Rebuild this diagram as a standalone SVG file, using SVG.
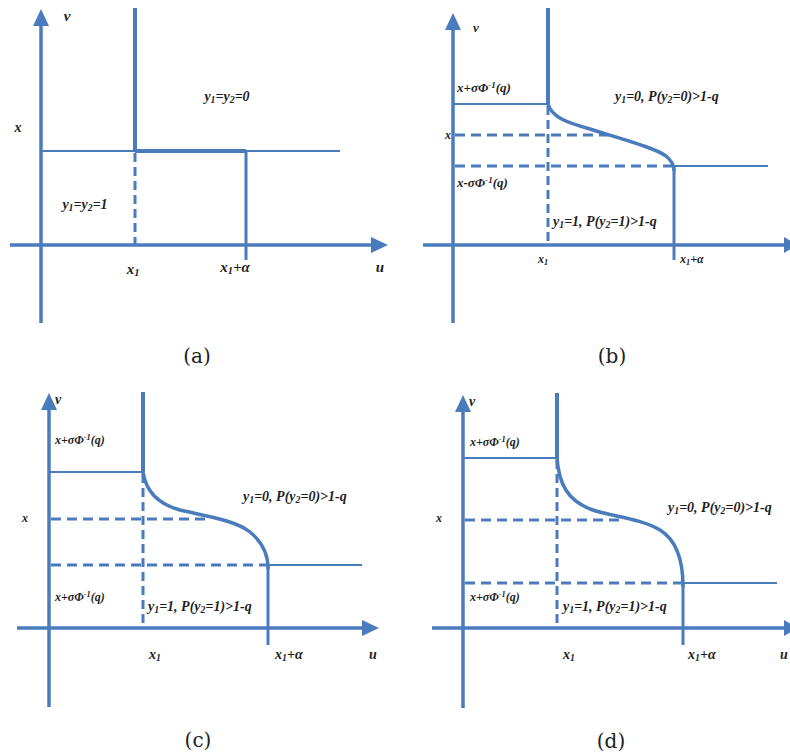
<svg xmlns="http://www.w3.org/2000/svg" width="790" height="756" viewBox="0 0 790 756">
<style>
.ax{stroke:#4a7bbd;stroke-width:3.5;fill:none}
.th{stroke:#4a7bbd;stroke-width:4;fill:none}
.tn{stroke:#4a7bbd;stroke-width:2.2;fill:none}
.md{stroke:#4a7bbd;stroke-width:3;fill:none}
.cv{stroke:#4a7bbd;stroke-width:3.5;fill:none;stroke-linecap:round}
.ds{stroke:#4a7bbd;stroke-width:3;fill:none;stroke-dasharray:10 6}
.dv{stroke:#4a7bbd;stroke-width:3;fill:none;stroke-dasharray:9 5}
.ar{fill:#4a7bbd}
.lb{font-family:"Liberation Serif",serif;font-style:italic;font-weight:bold;fill:#1e1e1e}
.L{font-size:15px}
.M{font-size:14px}
.S{font-size:12px}
.B{font-size:13px}
.s{font-size:70%}
.cap{font-family:"DejaVu Serif",serif;font-size:20px;fill:#222;text-anchor:middle}
.c{text-anchor:middle}
.e{text-anchor:end}
</style>
<rect width="790" height="756" fill="#fff"/>

<g id="panel-a">
<line class="ax" x1="41" y1="323" x2="41" y2="22"/>
<polygon class="ar" points="41,9 33,26 49,26"/>
<line class="ax" x1="10" y1="245" x2="373" y2="245"/>
<polygon class="ar" points="388,245 371,237 371,253"/>
<line class="th" x1="135" y1="8" x2="135" y2="151"/>
<line class="dv" x1="135" y1="153" x2="135" y2="245"/>
<line class="tn" x1="41" y1="151" x2="340" y2="151"/>
<line class="th" x1="135" y1="151" x2="246" y2="151"/>
<line class="md" x1="246" y1="150" x2="246" y2="260"/>
<text class="lb L c" x="67" y="21">v</text>
<text class="lb M c" x="18" y="132">x</text>
<text class="lb M c" x="227" y="101">y<tspan class="s" dy="2">1</tspan><tspan dy="-2">=y</tspan><tspan class="s" dy="2">2</tspan><tspan dy="-2">=0</tspan></text>
<text class="lb M c" x="85" y="209">y<tspan class="s" dy="2">1</tspan><tspan dy="-2">=y</tspan><tspan class="s" dy="2">2</tspan><tspan dy="-2">=1</tspan></text>
<text class="lb L c" x="133" y="274">x<tspan class="s" dy="2">1</tspan></text>
<text class="lb L c" x="235" y="272">x<tspan class="s" dy="2">1</tspan><tspan dy="-2">+α</tspan></text>
<text class="lb L c" x="380" y="272">u</text>
<text class="cap" x="197" y="363">(a)</text>
</g>

<g id="panel-b">
<line class="ax" x1="453" y1="323" x2="453" y2="26"/>
<polygon class="ar" points="453,13 445,30 461,30"/>
<line class="ax" x1="423" y1="245" x2="788" y2="245"/>
<polygon class="ar" points="798,245 784,237 784,253"/>
<line class="th" x1="548" y1="8" x2="548" y2="104"/>
<line class="tn" x1="453" y1="104" x2="548" y2="104"/>
<path class="cv" d="M548,104 C552,117 565,122 590,129 C625,140 655,148 666,156 C672,161 674,166 674,170"/>
<line class="md" x1="674" y1="166" x2="674" y2="260"/>
<line class="tn" x1="674" y1="166" x2="768" y2="166"/>
<line class="ds" x1="455" y1="135" x2="615" y2="135"/>
<line class="ds" x1="455" y1="166" x2="672" y2="166"/>
<line class="dv" x1="548" y1="106" x2="548" y2="245"/>
<text class="lb B c" x="476" y="32">v</text>
<text class="lb B" x="457" y="92">x+σΦ<tspan class="s" dy="-4">-1</tspan><tspan dy="4">(q)</tspan></text>
<text class="lb S e" x="451" y="139">x</text>
<text class="lb B" x="457" y="187">x-σΦ<tspan class="s" dy="-4">-1</tspan><tspan dy="4">(q)</tspan></text>
<text class="lb M" x="615" y="101">y<tspan class="s" dy="2">1</tspan><tspan dy="-2">=0, P(y</tspan><tspan class="s" dy="2">2</tspan><tspan dy="-2">=0)&gt;1-q</tspan></text>
<text class="lb M" x="553" y="226">y<tspan class="s" dy="2">1</tspan><tspan dy="-2">=1, P(y</tspan><tspan class="s" dy="2">2</tspan><tspan dy="-2">=1)&gt;1-q</tspan></text>
<text class="lb S c" x="543" y="263">x<tspan class="s" dy="2">1</tspan></text>
<text class="lb S" x="680" y="263">x<tspan class="s" dy="2">1</tspan><tspan dy="-2">+α</tspan></text>
<text class="cap" x="612" y="363">(b)</text>
</g>

<g id="panel-c">
<line class="ax" x1="49" y1="707" x2="49" y2="406"/>
<polygon class="ar" points="49,393 41,410 57,410"/>
<line class="ax" x1="17" y1="628" x2="364" y2="628"/>
<polygon class="ar" points="379,628 362,620 362,636"/>
<line class="th" x1="143" y1="392" x2="143" y2="472"/>
<line class="tn" x1="49" y1="472" x2="143" y2="472"/>
<path class="cv" d="M143,472 C146,492 158,504 180,510 C205,516 235,520 250,532 C262,542 268,553 268,568"/>
<line class="tn" x1="268" y1="565" x2="362" y2="565"/>
<line class="md" x1="268" y1="565" x2="268" y2="645"/>
<line class="ds" x1="51" y1="519" x2="207" y2="519"/>
<line class="ds" x1="51" y1="565" x2="266" y2="565"/>
<line class="dv" x1="143" y1="474" x2="143" y2="628"/>
<text class="lb M" x="55" y="404">v</text>
<text class="lb S" x="55" y="444">x+σΦ<tspan class="s" dy="-4">-1</tspan><tspan dy="4">(q)</tspan></text>
<text class="lb S c" x="25" y="522">x</text>
<text class="lb S" x="55" y="601">x+σΦ<tspan class="s" dy="-4">-1</tspan><tspan dy="4">(q)</tspan></text>
<text class="lb M" x="243" y="501">y<tspan class="s" dy="2">1</tspan><tspan dy="-2">=0, P(y</tspan><tspan class="s" dy="2">2</tspan><tspan dy="-2">=0)&gt;1-q</tspan></text>
<text class="lb M" x="148" y="611">y<tspan class="s" dy="2">1</tspan><tspan dy="-2">=1, P(y</tspan><tspan class="s" dy="2">2</tspan><tspan dy="-2">=1)&gt;1-q</tspan></text>
<text class="lb M c" x="155" y="659">x<tspan class="s" dy="2">1</tspan></text>
<text class="lb M" x="275" y="659">x<tspan class="s" dy="2">1</tspan><tspan dy="-2">+α</tspan></text>
<text class="lb M c" x="373" y="659">u</text>
<text class="cap" x="198" y="747">(c)</text>
</g>

<g id="panel-d">
<line class="ax" x1="463" y1="708" x2="463" y2="408"/>
<polygon class="ar" points="463,395 455,412 471,412"/>
<line class="ax" x1="432" y1="628" x2="788" y2="628"/>
<polygon class="ar" points="798,628 784,620 784,636"/>
<line class="th" x1="557" y1="393" x2="557" y2="458"/>
<line class="tn" x1="463" y1="458" x2="557" y2="458"/>
<path class="cv" d="M557,458 C559,485 568,500 590,509 C612,517 640,518 660,530 C676,540 683,558 683,586"/>
<line class="tn" x1="683" y1="583" x2="777" y2="583"/>
<line class="md" x1="683" y1="583" x2="683" y2="645"/>
<line class="ds" x1="465" y1="520" x2="622" y2="520"/>
<line class="ds" x1="465" y1="583" x2="681" y2="583"/>
<line class="dv" x1="557" y1="460" x2="557" y2="628"/>
<text class="lb M" x="469" y="406">v</text>
<text class="lb S" x="470" y="446">x+σΦ<tspan class="s" dy="-4">-1</tspan><tspan dy="4">(q)</tspan></text>
<text class="lb S c" x="439" y="522">x</text>
<text class="lb S" x="470" y="601">x+σΦ<tspan class="s" dy="-4">-1</tspan><tspan dy="4">(q)</tspan></text>
<text class="lb M" x="668" y="512">y<tspan class="s" dy="2">1</tspan><tspan dy="-2">=0, P(y</tspan><tspan class="s" dy="2">2</tspan><tspan dy="-2">=0)&gt;1-q</tspan></text>
<text class="lb M" x="563" y="611">y<tspan class="s" dy="2">1</tspan><tspan dy="-2">=1, P(y</tspan><tspan class="s" dy="2">2</tspan><tspan dy="-2">=1)&gt;1-q</tspan></text>
<text class="lb M" x="563" y="659">x<tspan class="s" dy="2">1</tspan></text>
<text class="lb M" x="688" y="659">x<tspan class="s" dy="2">1</tspan><tspan dy="-2">+α</tspan></text>
<text class="lb M" x="780" y="659">u</text>
<text class="cap" x="611" y="748">(d)</text>
</g>
</svg>
